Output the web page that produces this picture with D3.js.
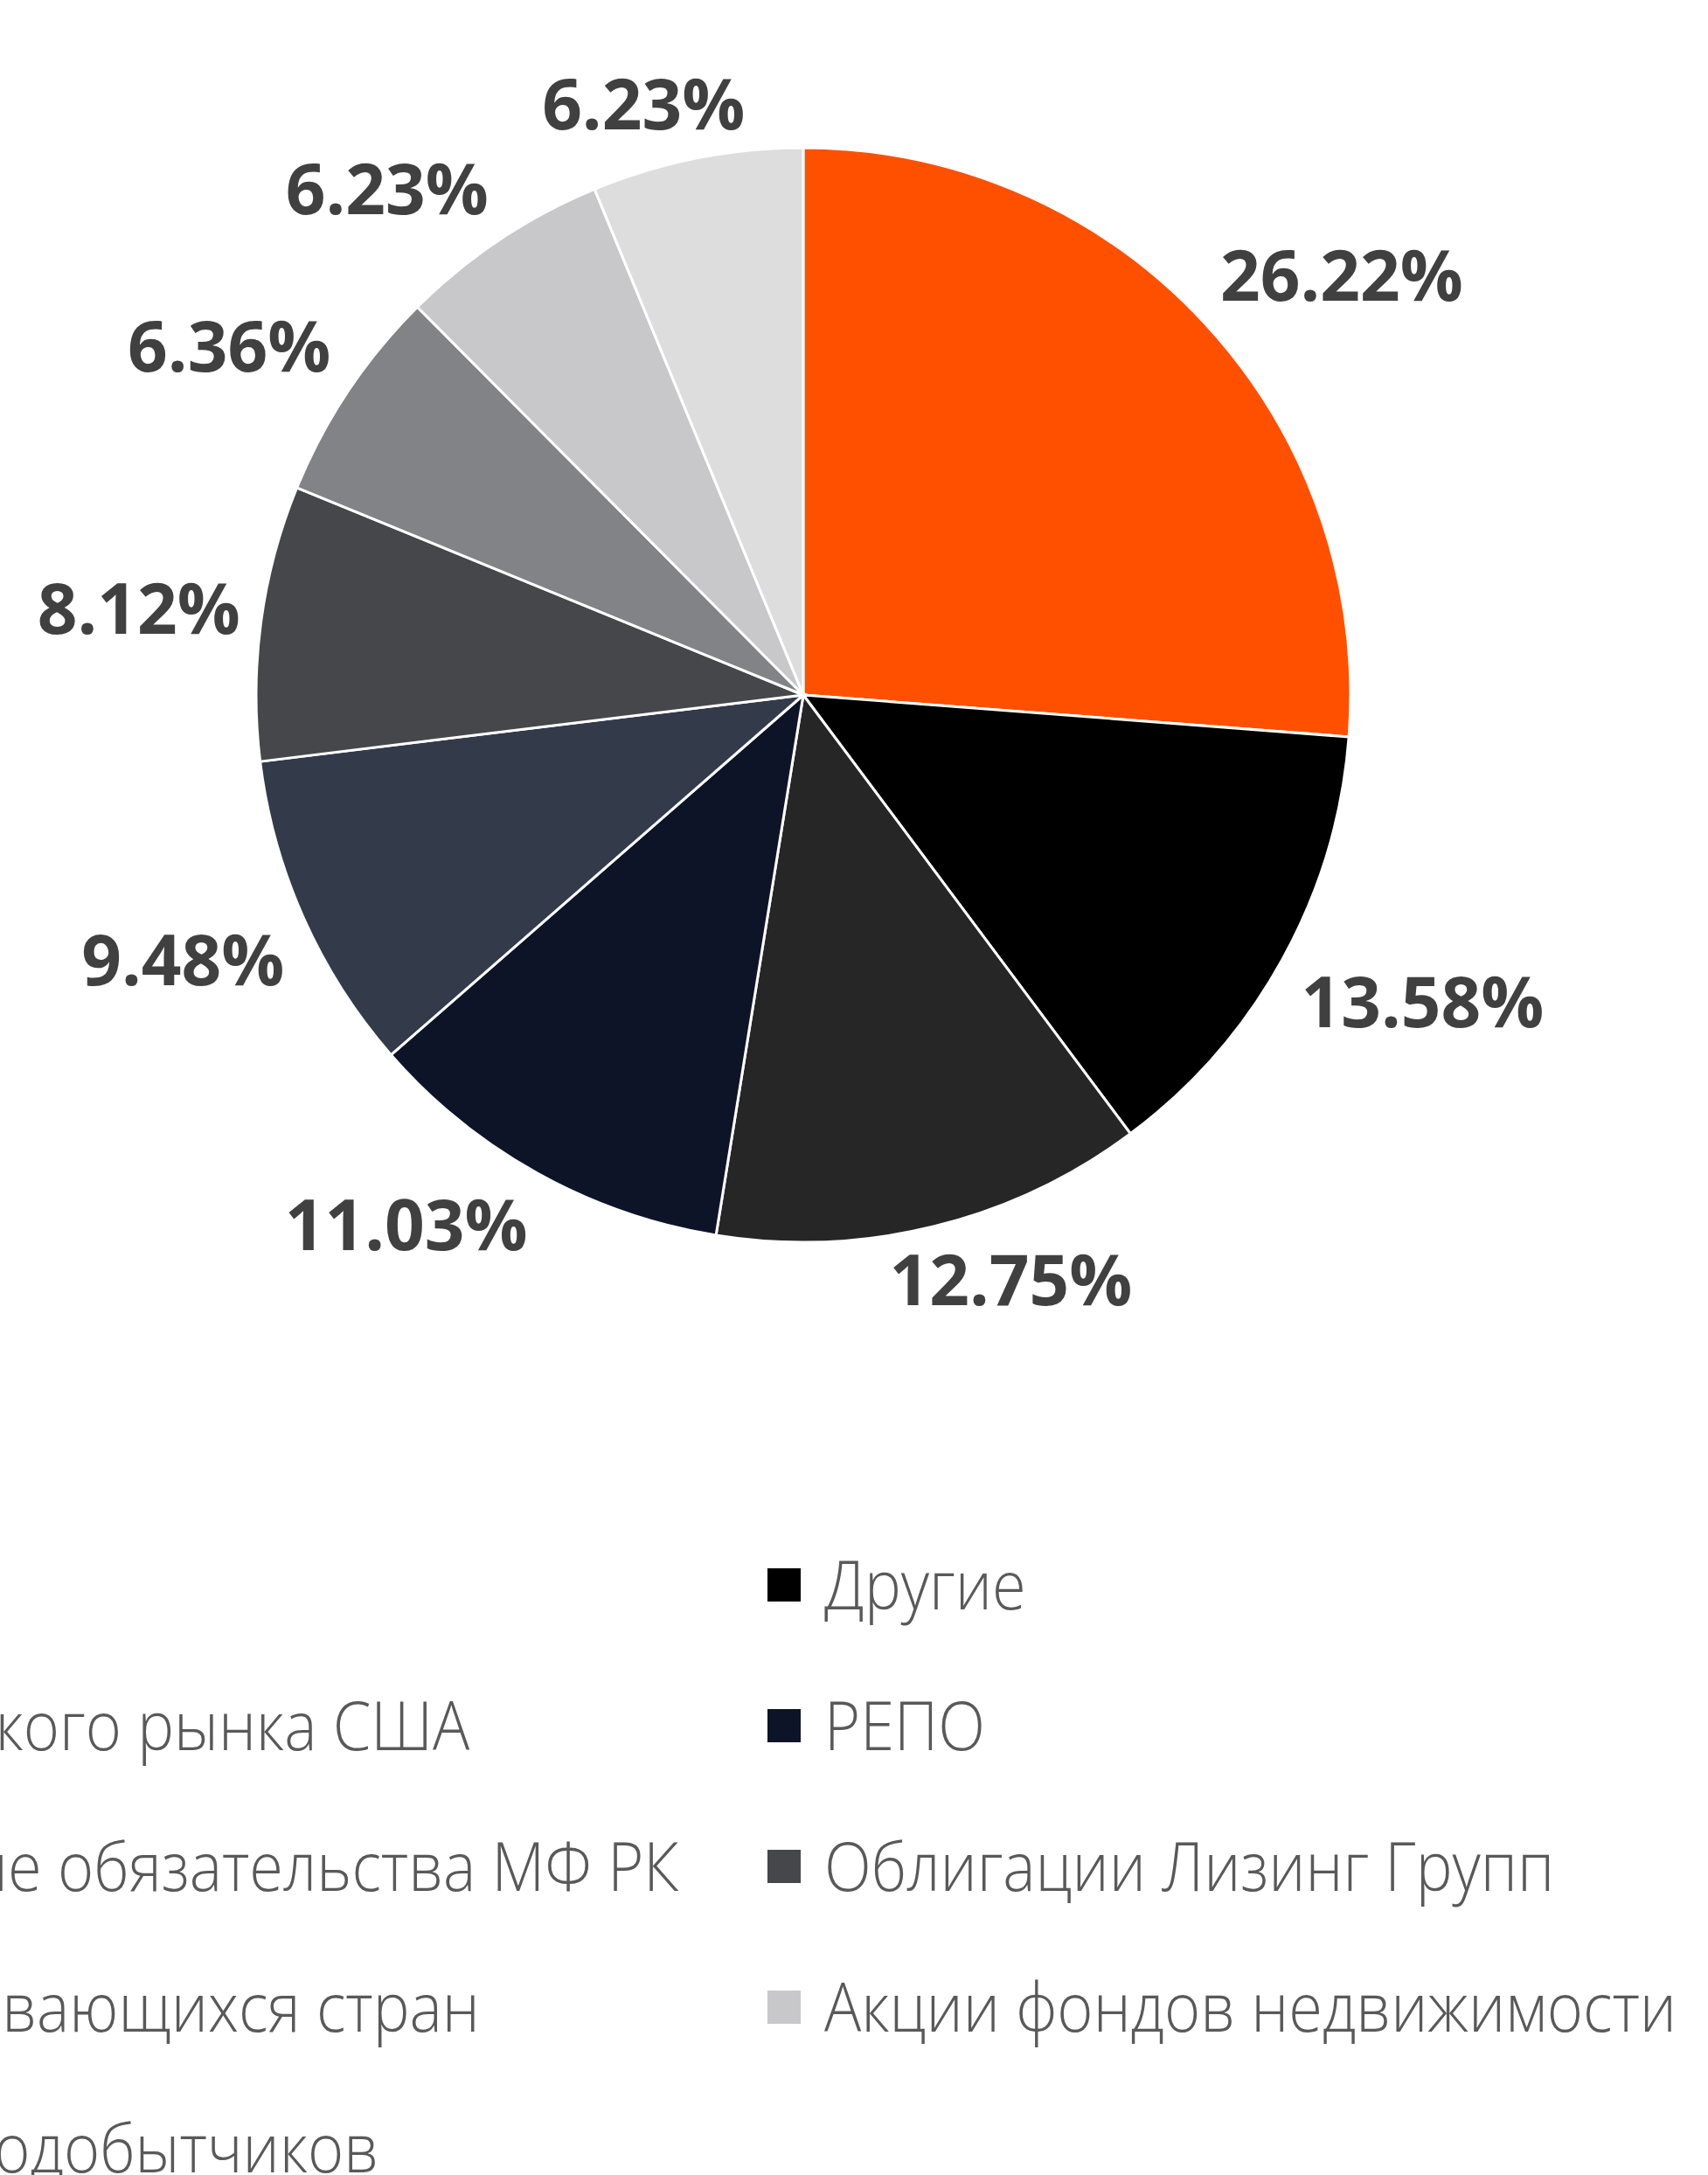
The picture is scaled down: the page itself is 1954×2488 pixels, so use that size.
<!DOCTYPE html>
<html>
<head>
<meta charset="utf-8">
<script src="https://cdn.jsdelivr.net/npm/d3@7"></script>
<style>
    body { margin: 0; background: #fff; overflow: hidden; }
    svg { display: block; }
</style>
</head>
<body>
<div id="chart"></div>
<script>
// chart data
var categories = ["Золото", "Другие", "Акции широкого рынка США", "РЕПО", "Казначейские обязательства МФ РК",
    "Облигации Лизинг Групп", "Акции развивающихся стран", "Акции фондов недвижимости", "Акции золотодобытчиков"];
var shares = [26.22, 13.58, 12.75, 11.03, 9.48, 8.12, 6.36, 6.23, 6.23];
var sliceColors = ["#FF5000", "#000000", "#262626", "#0E1428", "#333A4A", "#46474B", "#818387", "#C8C8CA", "#DDDDDD"];

(function() {
    var svgWidth = 1954, svgHeight = 2488;
    var cx = 919, cy = 795, radius = 626;

    var svg = d3.select("#chart")
        .append("svg")
        .attr("width", svgWidth)
        .attr("height", svgHeight);

    svg.append("rect")
        .attr("width", svgWidth)
        .attr("height", svgHeight)
        .attr("fill", "#fff");

    var data = categories.map(function(c, i) {
        return {name: c, value: shares[i], color: sliceColors[i]};
    });

    var pie = d3.pie().sort(null).value(d => d.value);
    var arc = d3.arc().innerRadius(0).outerRadius(radius);

    var g = svg.append("g")
        .attr("transform", "translate(" + cx + "," + cy + ")");

    var arcs = pie(data);

    g.selectAll(".slice")
        .data(arcs)
        .enter().append("path")
        .attr("class", "slice")
        .attr("d", arc)
        .style("fill", d => d.data.color)
        .style("stroke", "#fff")
        .style("stroke-width", 3);

    // labels: anchor just outside the rim, box pushed away towards its corner
    var gap = 24, labelSize = 80;
    var clamp = v => Math.max(-1, Math.min(1, v));
    var labels = g.selectAll(".lbl")
        .data(arcs)
        .enter().append("text")
        .attr("class", "lbl")
        .attr("text-anchor", "middle")
        .attr("dy", "0.36em")
        .style("font-family", "'Open Sans', sans-serif")
        .style("font-weight", "bold")
        .style("font-size", labelSize + "px")
        .style("fill", "#404040")
        .text(d => d.data.value.toFixed(2) + "%");

    labels.each(function(d) {
        var a = (d.startAngle + d.endAngle) / 2;
        var w = this.getComputedTextLength();
        var h = labelSize * 0.95;
        var r = radius + gap;
        var sx = clamp(2.5 * Math.sin(a)), sy = clamp(-2.5 * Math.cos(a));
        d3.select(this)
            .attr("x", r * Math.sin(a) + sx * w / 2)
            .attr("y", -r * Math.cos(a) + sy * h / 2);
    });

    // legend: two columns, filled row by row, left column runs off the page
    var legendLeft = -475, colWidth = 1353, legendTop = 1813, rowStep = 161, box = 38;
    var legend = svg.selectAll(".legend")
        .data(data)
        .enter().append("g")
        .attr("class", "legend")
        .attr("transform", function(d, i) {
            return "translate(" + (legendLeft + (i % 2) * colWidth) + "," + (legendTop + Math.floor(i / 2) * rowStep) + ")";
        });

    legend.append("rect")
        .attr("x", 0)
        .attr("y", -box / 2)
        .attr("width", box)
        .attr("height", box)
        .style("fill", d => d.color);

    legend.append("text")
        .attr("transform", "translate(65,0) scale(0.902,1)")
        .attr("dy", "0.36em")
        .style("font-family", "'Open Sans', sans-serif")
        .style("font-weight", 300)
        .style("font-size", "78px")
        .style("fill", "#595959")
        .text(d => d.name);
})();
</script>
</body>
</html>
